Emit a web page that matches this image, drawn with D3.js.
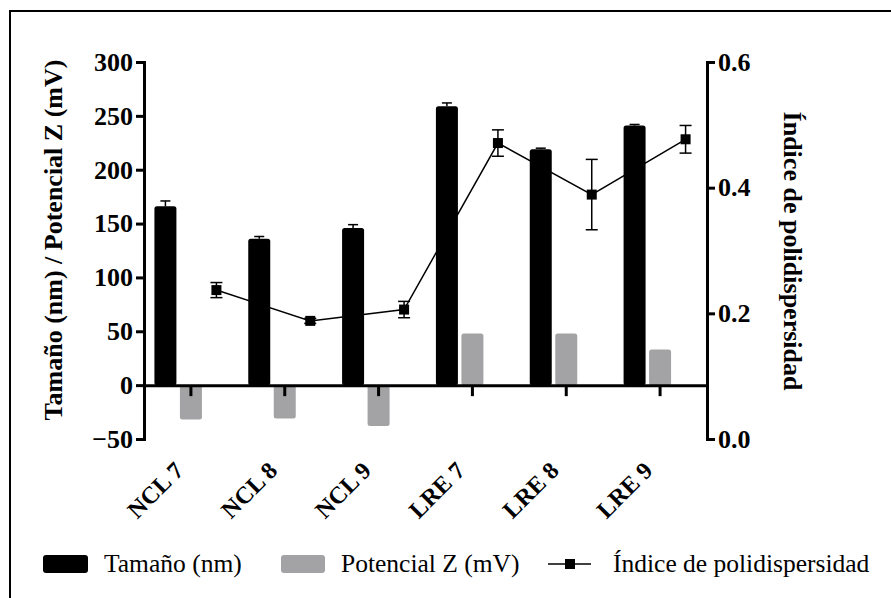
<!DOCTYPE html>
<html>
<head>
<meta charset="utf-8">
<script src="https://cdn.jsdelivr.net/npm/d3@7"></script>
<style>
  html, body { margin: 0; padding: 0; background: #fff; }
  svg { display: block; }
</style>
</head>
<body>
<svg id="chart" width="891" height="598"></svg>
<script>
// Formulations
const categories = ["NCL 7", "NCL 8", "NCL 9", "LRE 7", "LRE 8", "LRE 9"];
// Particle size (nm) with SD
const tamano = [166, 136, 146, 259, 219, 241];
const tamanoErr = [5, 2, 3, 3, 1, 1];
// Zeta potential (mV)
const potencial = [-32, -31, -38, 48, 48, 33];
// Polydispersity index with SD
const pdi = [0.237, 0.188, 0.206, 0.471, 0.389, 0.477];
const pdiErr = [0.012, 0.004, 0.013, 0.021, 0.056, 0.022];
// Axis ticks
const leftTicks = [-50, 0, 50, 100, 150, 200, 250, 300];
const rightTicks = [0.0, 0.2, 0.4, 0.6];

const serif = "'Liberation Serif', Tinos, 'Times New Roman', serif";
const svg = d3.select("#chart");

// outer frame (left and top edges visible)
svg.append("path")
  .attr("d", "M10,598 L10,11 L891,11")
  .attr("fill", "none").attr("stroke", "#000").attr("stroke-width", 2);

const x0 = 144, x1 = 707, yTop = 62, yBot = 439;

const x = d3.scaleBand().domain(categories).range([x0, x1]).paddingInner(0).paddingOuter(0);
const yL = d3.scaleLinear().domain([-50, 300]).range([yBot, yTop]);
const yR = d3.scaleLinear().domain([0, 0.6]).range([yBot, yTop]);

const slot = 25.5, barW = 22;
const cx = d => x(d) + x.bandwidth() / 2;

// size bars
svg.append("g").selectAll("rect").data(categories).join("rect")
  .attr("x", (d) => cx(d) - slot - barW / 2)
  .attr("width", barW)
  .attr("y", (d, i) => yL(tamano[i]))
  .attr("height", (d, i) => yL(0) - yL(tamano[i]))
  .attr("rx", 2.5)
  .attr("fill", "#000");

// size error bars (upper)
const eg = svg.append("g").attr("stroke", "#000").attr("stroke-width", 1.5);
categories.forEach((d, i) => {
  const xc = cx(d) - slot;
  eg.append("line").attr("x1", xc).attr("x2", xc)
    .attr("y1", yL(tamano[i])).attr("y2", yL(tamano[i] + tamanoErr[i]));
  eg.append("line").attr("x1", xc - 5).attr("x2", xc + 5)
    .attr("y1", yL(tamano[i] + tamanoErr[i])).attr("y2", yL(tamano[i] + tamanoErr[i]));
});

// zeta potential bars
svg.append("g").selectAll("rect").data(categories).join("rect")
  .attr("x", (d) => cx(d) - barW / 2)
  .attr("width", barW)
  .attr("y", (d, i) => Math.min(yL(potencial[i]), yL(0)))
  .attr("height", (d, i) => Math.abs(yL(0) - yL(potencial[i])))
  .attr("rx", 2.5)
  .attr("fill", "#a3a3a5");

const styleTicks = g => g.selectAll(".tick text")
  .style("font-family", serif).style("font-weight", "bold").style("font-size", "26px");

// x axis along zero
svg.append("g")
  .attr("transform", `translate(0,${yL(0)})`)
  .call(d3.axisBottom(x).tickSize(11).tickSizeOuter(0).tickFormat(""))
  .call(g => g.select(".domain").attr("stroke-width", 3))
  .call(g => g.selectAll(".tick line").attr("stroke-width", 3));

// left axis
svg.append("g")
  .attr("transform", `translate(${x0},0)`)
  .call(d3.axisLeft(yL).tickValues(leftTicks).tickSize(8).tickSizeOuter(8).tickPadding(3))
  .call(g => g.select(".domain").attr("stroke-width", 3))
  .call(g => g.selectAll(".tick line").attr("stroke-width", 3))
  .call(styleTicks);

// right axis
svg.append("g")
  .attr("transform", `translate(${x1},0)`)
  .call(d3.axisRight(yR).tickValues(rightTicks).tickSize(8).tickSizeOuter(8).tickPadding(3).tickFormat(d3.format(".1f")))
  .call(g => g.select(".domain").attr("stroke-width", 3))
  .call(g => g.selectAll(".tick line").attr("stroke-width", 3))
  .call(styleTicks);

// polydispersity line
const px = d => cx(d) + slot;
svg.append("path")
  .datum(categories)
  .attr("fill", "none").attr("stroke", "#000").attr("stroke-width", 1.5)
  .attr("d", d3.line().x(d => px(d)).y((d, i) => yR(pdi[i])));

const pg = svg.append("g").attr("stroke", "#000").attr("stroke-width", 1.5);
categories.forEach((d, i) => {
  const xc = px(d), lo = yR(pdi[i] - pdiErr[i]), hi = yR(pdi[i] + pdiErr[i]);
  pg.append("line").attr("x1", xc).attr("x2", xc).attr("y1", lo).attr("y2", hi);
  pg.append("line").attr("x1", xc - 6).attr("x2", xc + 6).attr("y1", lo).attr("y2", lo);
  pg.append("line").attr("x1", xc - 6).attr("x2", xc + 6).attr("y1", hi).attr("y2", hi);
});
svg.append("g").selectAll("rect").data(categories).join("rect")
  .attr("x", d => px(d) - 5).attr("y", (d, i) => yR(pdi[i]) - 5)
  .attr("width", 10).attr("height", 10).attr("fill", "#000");

// category labels
svg.append("g").selectAll("text").data(categories).join("text")
  .attr("transform", d => `translate(${cx(d) - 6},${472}) rotate(-45)`)
  .attr("text-anchor", "end")
  .style("font-family", serif).style("font-weight", "bold").style("font-size", "24px")
  .text(d => d);

// axis titles
svg.append("text")
  .attr("transform", "translate(62,240) rotate(-90)")
  .attr("text-anchor", "middle")
  .style("font-family", serif).style("font-weight", "bold").style("font-size", "26px")
  .text("Tamaño (nm) / Potencial Z (mV)");
svg.append("text")
  .attr("transform", "translate(784,251) rotate(90)")
  .attr("text-anchor", "middle")
  .style("font-family", serif).style("font-weight", "bold").style("font-size", "26px")
  .text("Índice de polidispersidad");

// legend
const lg = svg.append("g").attr("transform", "translate(0,564)");
const legText = (xx, t) => lg.append("text").attr("x", xx).attr("y", 8)
  .style("font-family", serif).style("font-size", "25.5px").text(t);
lg.append("rect").attr("x", 43).attr("y", -9).attr("width", 45).attr("height", 18).attr("rx", 3).attr("fill", "#000");
legText(104, "Tamaño (nm)");
lg.append("rect").attr("x", 281).attr("y", -9).attr("width", 44).attr("height", 18).attr("rx", 3).attr("fill", "#a3a3a5");
legText(341, "Potencial Z (mV)");
lg.append("line").attr("x1", 548).attr("x2", 591).attr("y1", 0).attr("y2", 0).attr("stroke", "#000").attr("stroke-width", 1.5);
lg.append("rect").attr("x", 565).attr("y", -5).attr("width", 10).attr("height", 10).attr("fill", "#000");
legText(613, "Índice de polidispersidad");
</script>
</body>
</html>
